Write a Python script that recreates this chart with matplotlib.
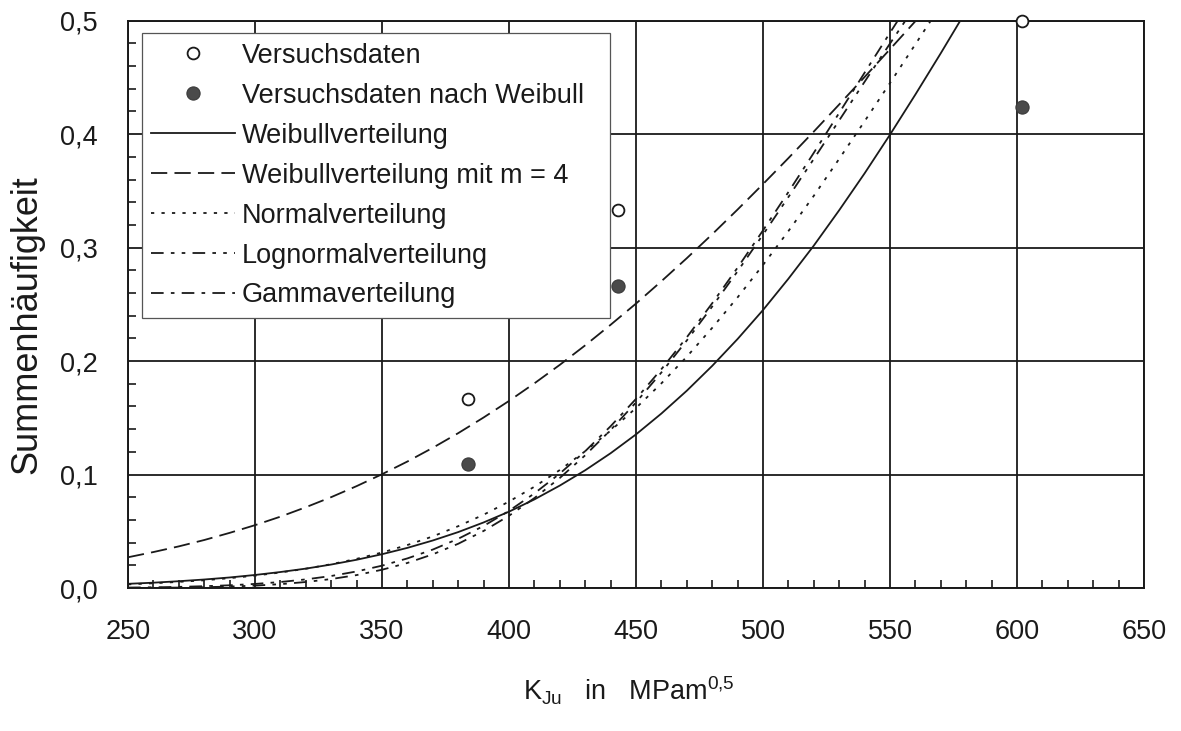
import matplotlib.pyplot as plt
from matplotlib.ticker import MultipleLocator, FuncFormatter

plt.rcParams['font.family'] = ['Liberation Sans', 'DejaVu Sans']
plt.rcParams['mathtext.default'] = 'regular'

# test data (K_Ju, cumulative frequency)
k_test = [384, 443, 602]
f_test = [0.167, 0.333, 0.500]
f_test_weibull = [0.109, 0.266, 0.424]

k_grid = [250, 260, 270, 280, 290, 300, 310, 320, 330, 340, 350, 360,
          370, 380, 390, 400, 410, 420, 430, 440, 450, 460, 470, 480,
          490, 500, 510, 520, 530, 540, 550, 560, 570, 580]
f_weibull = [0.0037, 0.0047, 0.0060, 0.0075, 0.0093, 0.0115, 0.0141, 0.0171,
             0.0207, 0.0249, 0.0298, 0.0354, 0.0419, 0.0493, 0.0578, 0.0673,
             0.0781, 0.0903, 0.1038, 0.1188, 0.1354, 0.1538, 0.1739, 0.1958,
             0.2195, 0.2450, 0.2726, 0.3018, 0.3330, 0.3655, 0.3996, 0.4350,
             0.4714, 0.5088]
f_weibull_m4 = [0.0271, 0.0317, 0.0367, 0.0423, 0.0486, 0.0554, 0.0629, 0.0712,
                0.0801, 0.0898, 0.1003, 0.1115, 0.1236, 0.1365, 0.1503, 0.1649,
                0.1804, 0.1967, 0.2139, 0.2320, 0.2507, 0.2704, 0.2907, 0.3118,
                0.3336, 0.3560, 0.3789, 0.4023, 0.4262, 0.4504, 0.4749, 0.4996,
                0.5244]
f_normal = [0.0032, 0.0042, 0.0054, 0.0068, 0.0087, 0.0109, 0.0137, 0.0170,
            0.0210, 0.0257, 0.0313, 0.0379, 0.0455, 0.0545, 0.0646, 0.0762,
            0.0893, 0.1040, 0.1206, 0.1387, 0.1587, 0.1804, 0.2039, 0.2293,
            0.2562, 0.2847, 0.3146, 0.3457, 0.3783, 0.4114, 0.4451, 0.4793,
            0.5136]
f_lognormal = [0.0001, 0.0002, 0.0004, 0.0007, 0.0013, 0.0021, 0.0034, 0.0053,
               0.0079, 0.0114, 0.0161, 0.0221, 0.0297, 0.0390, 0.0503, 0.0637,
               0.0793, 0.0970, 0.1170, 0.1393, 0.1636, 0.1900, 0.2182, 0.2481,
               0.2792, 0.3115, 0.3446, 0.3782, 0.4122, 0.4462, 0.4799, 0.5131]
f_gamma = [0.0004, 0.0006, 0.0010, 0.0016, 0.0024, 0.0036, 0.0053, 0.0076,
           0.0106, 0.0146, 0.0197, 0.0261, 0.0339, 0.0434, 0.0547, 0.0680,
           0.0834, 0.1009, 0.1206, 0.1426, 0.1667, 0.1929, 0.2210, 0.2510,
           0.2824, 0.3152, 0.3490, 0.3836, 0.4188, 0.4542, 0.4894, 0.5243]

x_ticks = [250, 300, 350, 400, 450, 500, 550, 600, 650]
y_ticks = [0.0, 0.1, 0.2, 0.3, 0.4, 0.5]

ink = '#1a1a1a'
lw = 1.3

fig = plt.figure(figsize=(11.81, 7.31), dpi=100)
ax = fig.add_axes([0.1084, 0.1956, 0.8603, 0.7761])

ax.plot(k_grid[:len(f_weibull)], f_weibull, color=ink, lw=lw, label='Weibullverteilung')
ax.plot(k_grid[:len(f_weibull_m4)], f_weibull_m4, color=ink, lw=lw, dashes=(9, 4),
        label='Weibullverteilung mit m = 4')
ax.plot(k_grid[:len(f_normal)], f_normal, color=ink, lw=lw, dashes=(1.8, 4),
        label='Normalverteilung')
ax.plot(k_grid[:len(f_lognormal)], f_lognormal, color=ink, lw=lw,
        dashes=(7, 4, 2, 4, 2, 4), label='Lognormalverteilung')
ax.plot(k_grid[:len(f_gamma)], f_gamma, color=ink, lw=lw, dashes=(7, 4, 2, 4),
        label='Gammaverteilung')

ax.plot(k_test, f_test, ls='none', marker='o', ms=8.5, mfc='white', mec=ink,
        mew=1.3, clip_on=False, zorder=5, label='Versuchsdaten')
ax.plot(k_test, f_test_weibull, ls='none', marker='o', ms=9.5, mfc='#4a4a4a',
        mec='#3a3a3a', mew=0.8, clip_on=False, zorder=5,
        label='Versuchsdaten nach Weibull')

ax.set_xlim(250, 650)
ax.set_ylim(0, 0.5)
ax.set_xticks(x_ticks)
ax.set_yticks(y_ticks)
ax.xaxis.set_minor_locator(MultipleLocator(10))
ax.yaxis.set_minor_locator(MultipleLocator(0.02))
ax.yaxis.set_major_formatter(FuncFormatter(lambda v, p: ('%.1f' % v).replace('.', ',')))
ax.tick_params(which='both', direction='in', colors=ink, labelsize=19.5,
               top=False, right=False)
ax.tick_params(which='major', length=0, pad=22)
ax.tick_params(which='minor', length=6, width=1.2)
ax.grid(True, which='major', color=ink, lw=1.3)
for s in ax.spines.values():
    s.set_color(ink)
    s.set_linewidth(1.4)

ax.set_ylabel('Summenhäufigkeit', fontsize=26, color=ink)
ax.yaxis.set_label_coords(-0.082, 0.465)
ax.set_xlabel(r'K$_{Ju}$   in   MPam$^{0{,}5}$', fontsize=19.5, color=ink)
ax.xaxis.set_label_coords(0.493, -0.152)

handles, labels = ax.get_legend_handles_labels()
order = [5, 6, 0, 1, 2, 3, 4]
leg = ax.legend([handles[i] for i in order], [labels[i] for i in order],
                loc='upper left', bbox_to_anchor=(0.0135, 0.4777, 0.4609, 0.5001),
                mode='expand', borderaxespad=0, fontsize=19.5, handlelength=3.1,
                handletextpad=0.25, labelspacing=0.515, borderpad=0.35,
                fancybox=False, framealpha=1, edgecolor='#555555')
leg.get_frame().set_linewidth(0.9)
for t in leg.get_texts():
    t.set_color(ink)

fig.savefig('out.png', dpi=100, facecolor='white')
